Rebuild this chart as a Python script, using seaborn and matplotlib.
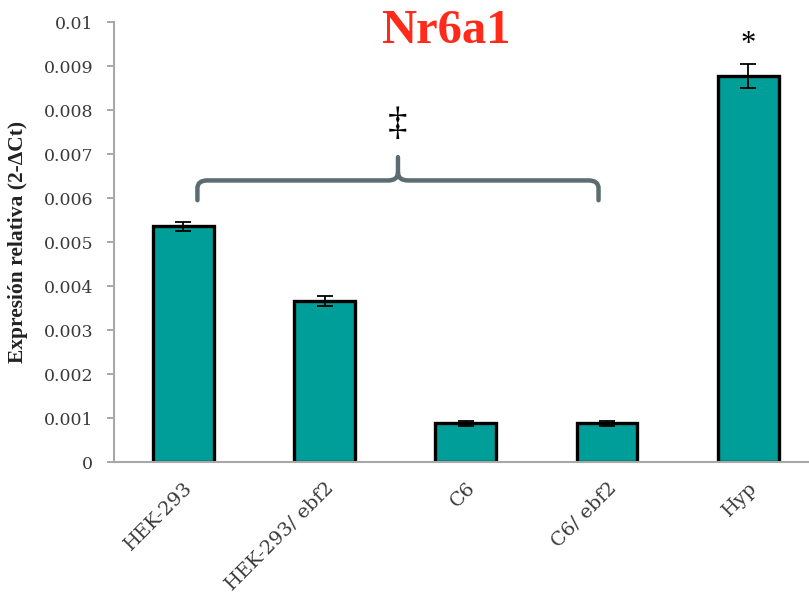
import matplotlib
matplotlib.use("Agg")
import matplotlib.pyplot as plt
from matplotlib.path import Path
from matplotlib.patches import PathPatch
import seaborn as sns
import pandas as pd

# Relative expression of Nr6a1 per sample
samples = ["HEK-293", "HEK-293/ ebf2", "C6", "C6/ ebf2", "Hyp"]
expression = [0.00536, 0.00366, 0.00088, 0.00088, 0.00877]
errors = [0.00010, 0.00012, 0.00006, 0.00006, 0.00027]
y_ticks = [0, 0.001, 0.002, 0.003, 0.004, 0.005, 0.006, 0.007, 0.008, 0.009, 0.01]
y_tick_labels = ["0", "0.001", "0.002", "0.003", "0.004", "0.005",
                 "0.006", "0.007", "0.008", "0.009", "0.01"]

df = pd.DataFrame({"sample": samples, "expr": expression})

sns.set_theme(style="white")
plt.rcParams["font.family"] = ["Liberation Serif", "DejaVu Serif"]
tick_font = ["DejaVu Serif", "Liberation Serif"]

fig = plt.figure(figsize=(8.09, 5.96), dpi=100)
ax = fig.add_axes([0.141, 0.2248, 0.859, 0.7382])

sns.barplot(data=df, x="sample", y="expr", color="#009E99", saturation=1,
            width=0.43, edgecolor="black", linewidth=2.4, errorbar=None, ax=ax)
ax.errorbar(range(len(samples)), expression, yerr=errors, fmt="none",
            ecolor="black", elinewidth=1.3, capsize=5.5, capthick=1.3, zorder=5)

ax.set_xlim(-0.49, 4.43)
ax.set_ylim(0, 0.01)
ax.set_yticks(y_ticks)
ax.set_yticklabels(y_tick_labels, family=tick_font, fontsize=12.5, color="#3a3a3a")
ax.tick_params(axis="y", which="both", left=True, length=5, width=1.2,
               color="#9a9a9a", pad=10)
ax.tick_params(axis="x", bottom=False, pad=6)
ax.set_xticks(range(len(samples)))
ax.set_xticklabels(samples, family=tick_font, fontsize=14, color="#3a3a3a",
                   rotation=45, ha="right", va="top", rotation_mode="anchor")

for s in ["top", "right"]:
    ax.spines[s].set_visible(False)
for s in ["left", "bottom"]:
    ax.spines[s].set_color("#a8a8a8")
    ax.spines[s].set_linewidth(1.5)

ax.set_xlabel("")
ax.set_ylabel("Expresión relativa (2-ΔCt)", fontsize=15.5, fontweight="bold",
              color="#222222")
ax.yaxis.set_label_coords(-0.124, 0.5)

# Brace grouping the four cell-line samples
x0, x1, xm = 0.10, 2.94, 1.52
yb, yt, ytip = 0.00595, 0.0064, 0.00693
r, rh = 0.07, 0.00018
verts = [(x0, yb), (x0, yt - rh), (x0, yt), (x0 + r, yt),
         (xm - r, yt), (xm, yt), (xm, yt + rh), (xm, ytip),
         (xm, yt + rh), (xm, yt), (xm + r, yt),
         (x1 - r, yt), (x1, yt), (x1, yt - rh), (x1, yb)]
codes = [Path.MOVETO, Path.LINETO, Path.CURVE3, Path.CURVE3,
         Path.LINETO, Path.CURVE3, Path.CURVE3, Path.LINETO,
         Path.MOVETO, Path.CURVE3, Path.CURVE3,
         Path.LINETO, Path.CURVE3, Path.CURVE3, Path.LINETO]
ax.add_patch(PathPatch(Path(verts, codes), facecolor="none",
                       edgecolor="#5b6d70", linewidth=3.2, capstyle="round",
                       joinstyle="round", zorder=4))
ax.text(xm, 0.00768, "‡", ha="center", va="center", fontsize=28, color="black")
ax.text(4, 0.0095, "*", ha="center", va="center", fontsize=22, color="black")

fig.text(0.551, 0.928, "Nr6a1", ha="center", va="baseline", fontsize=35,
         fontweight="bold", color="#ff2a1a")

fig.savefig("out.png", dpi=100)
